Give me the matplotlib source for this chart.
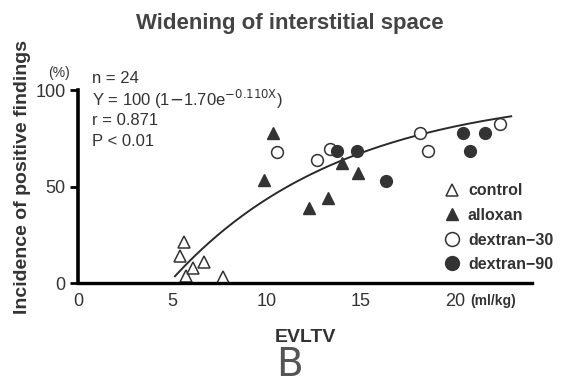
import numpy as np
import matplotlib.pyplot as plt
from matplotlib.lines import Line2D

# data (EVLTV ml/kg, incidence %)
control_x = [5.62, 5.41, 5.73, 6.10, 6.68, 7.69]
control_y = [21.2, 14.0, 3.6, 7.8, 10.9, 3.1]
alloxan_x = [10.33, 9.88, 12.27, 13.28, 14.04, 14.87]
alloxan_y = [77.6, 53.4, 38.7, 43.9, 62.0, 57.2]
dex30_x = [10.54, 12.70, 13.37, 18.14, 18.58, 22.42]
dex30_y = [68.0, 63.7, 69.3, 78.0, 68.5, 82.7]
dex90_x = [13.76, 14.82, 16.34, 20.44, 20.80, 21.60]
dex90_y = [68.5, 68.5, 53.0, 77.6, 68.4, 77.6]

# fitted curve Y = 100(1 - 1.70 e^-0.110x)
fit_a, fit_b = 1.70, 0.110
fit_start, fit_end = 5.15, 23.0

plt.rcParams['font.family'] = ['Liberation Sans', 'DejaVu Sans']

fig = plt.figure(figsize=(5.65, 3.88), dpi=100)
ax = fig.add_axes([0.138, 0.2706, 0.8035, 0.497])

fx = np.linspace(fit_start, fit_end, 200)
ax.plot(fx, 100 * (1 - fit_a * np.exp(-fit_b * fx)), color='#2a2a2a', lw=1.4)

dark = '#333333'
ms = 8.5
ax.plot(control_x, control_y, '^', mfc='white', mec=dark, mew=1.1, ms=ms, ls='none', clip_on=False)
ax.plot(alloxan_x, alloxan_y, '^', mfc=dark, mec=dark, ms=ms, ls='none', clip_on=False)
ax.plot(dex30_x, dex30_y, 'o', mfc='white', mec=dark, mew=1.1, ms=ms, ls='none', clip_on=False)
ax.plot(dex90_x, dex90_y, 'o', mfc=dark, mec=dark, ms=ms, ls='none', clip_on=False)

ax.set_xlim(0, 24.1)
ax.set_ylim(0, 100)
for s in ['top', 'right']:
    ax.spines[s].set_visible(False)
ax.spines['left'].set_linewidth(2.6)
ax.spines['bottom'].set_linewidth(2.4)

ax.set_xticks([0, 5, 10, 15, 20])
ax.set_yticks([0, 50, 100])
ax.tick_params(axis='x', length=0, pad=7, labelsize=13, colors='#333333')
ax.tick_params(axis='y', length=6, width=2, pad=3, labelsize=13, colors='#333333')
ax.tick_params(axis='y', color='black')

ax.text(20.8, -9.5, '(ml/kg)', fontsize=10, fontweight='bold', color='#333333',
        ha='left', va='center', clip_on=False)
ax.text(-1.0, 109, '(%)', fontsize=10, color='#333333', ha='center', va='center')

# stats block
tx = 0.75
ax.text(tx, 106, 'n = 24', fontsize=12, color='#333333', va='center')
ax.text(tx, 95, r'Y = 100 (1$-$1.70e$^{-0.110\mathrm{X}}$)', fontsize=12,
        color='#333333', va='center')
ax.text(tx, 84.5, 'r = 0.871', fontsize=12, color='#333333', va='center')
ax.text(tx, 73.5, 'P < 0.01', fontsize=12, color='#333333', va='center')

handles = [
    Line2D([], [], marker='^', ls='none', mfc='white', mec=dark, mew=1.1, ms=ms),
    Line2D([], [], marker='^', ls='none', mfc=dark, mec=dark, ms=ms),
    Line2D([], [], marker='o', ls='none', mfc='white', mec=dark, mew=1.1, ms=ms + 1.5),
    Line2D([], [], marker='o', ls='none', mfc=dark, mec=dark, ms=ms + 1.5),
]
labels = ['control', 'alloxan', 'dextran\u221230', 'dextran\u221290']
ax.legend(handles, labels, loc='upper left', bbox_to_anchor=(0.785, 0.55),
          frameon=False, handletextpad=0.3, labelspacing=0.6, handlelength=1.4,
          borderaxespad=0, labelcolor='#333333',
          prop={'weight': 'bold', 'size': 11.5})

fig.text(0.513, 0.94, 'Widening of interstitial space', ha='center', va='center',
         fontsize=16, fontweight='bold', color='#444444')
fig.text(0.04, 0.543, 'Incidence of positive findings', rotation=90, ha='center',
         va='center', fontsize=14, fontweight='bold', color='#333333')
fig.text(0.54, 0.13, 'EVLTV', ha='center', va='center', fontsize=14,
         fontweight='bold', color='#333333')
fig.text(0.513, 0.058, 'B', ha='center', va='center', fontsize=28,
         color='#555555', family='DejaVu Sans')

fig.savefig('out.png', dpi=100)
